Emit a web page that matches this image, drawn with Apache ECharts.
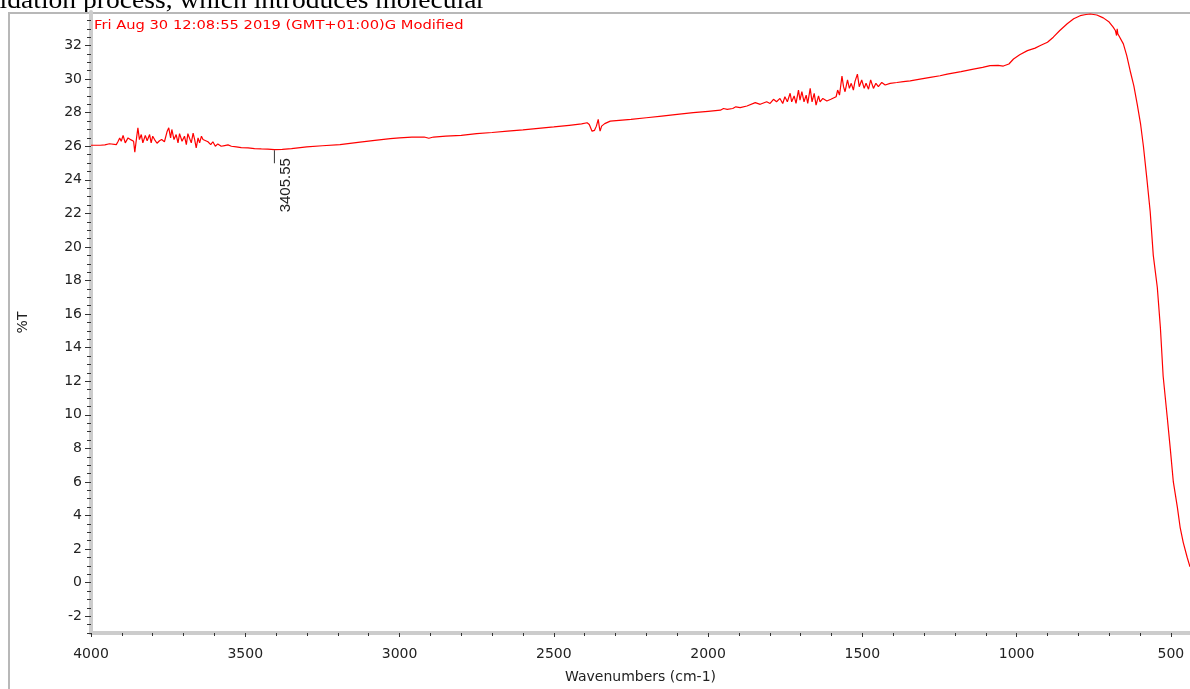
<!DOCTYPE html>
<html>
<head>
<meta charset="utf-8">
<title>FTIR spectrum</title>
<script src="https://cdn.jsdelivr.net/npm/echarts@6/dist/echarts.min.js"></script>
<style>
  html, body { margin: 0; padding: 0; background: #fff; }
  #ftir-chart { width: 1190px; height: 689px; }
</style>
</head>
<body>
<div id="ftir-chart"></div>
<script>
// wavenumber (cm-1) and %T
const wavenumbers = [
  4000, 3970, 3955, 3950, 3940, 3934, 3918, 3912, 3907, 3902, 3896, 3889, 3880, 3870, 3862, 3858,
  3852, 3848, 3843, 3837, 3832, 3824, 3818, 3810, 3805, 3800, 3794, 3786, 3778, 3771, 3762, 3753,
  3748, 3742, 3738, 3731, 3724, 3718, 3713, 3705, 3697, 3691, 3686, 3680, 3675, 3669, 3664, 3659,
  3653, 3648, 3642, 3637, 3632, 3621, 3612, 3605, 3597, 3589, 3578, 3567, 3556, 3545, 3529, 3513,
  3491, 3470, 3448, 3427, 3405.55, 3380, 3350, 3301, 3250, 3193, 3128, 3080, 3030, 3000, 2960, 2920,
  2905, 2890, 2850, 2800, 2750, 2700, 2650, 2600, 2550, 2500, 2450, 2410, 2392, 2385, 2376, 2368,
  2362, 2356, 2352, 2350, 2345, 2335, 2317, 2250, 2200, 2150, 2100, 2048, 2000, 1960, 1950, 1945,
  1938, 1920, 1910, 1905, 1896, 1874, 1847, 1831, 1810, 1799, 1788, 1778, 1767, 1758, 1751, 1743,
  1734, 1729, 1721, 1715, 1707, 1702, 1696, 1689, 1682, 1677, 1669, 1663, 1656, 1650, 1642, 1637,
  1628, 1615, 1602, 1585, 1580, 1574, 1566, 1561, 1556, 1548, 1542, 1536, 1529, 1524, 1516, 1510,
  1502, 1494, 1488, 1480, 1473, 1464, 1456, 1448, 1437, 1426, 1410, 1388, 1367, 1345, 1313, 1280,
  1248, 1225, 1180, 1140, 1110, 1086, 1060, 1043, 1025, 1010, 990, 965, 940, 923, 900, 881,
  860, 836, 815, 794, 775, 761, 740, 719, 700, 687, 680, 676, 674, 672, 668, 654,
  643, 632, 620, 609, 598, 589, 578, 567, 557, 544, 534, 525, 512, 502, 492, 479,
  470, 460, 447, 438
]
const transmittance = [
  26.06, 26.06, 26.08, 26.18, 26.15, 26.2, 26.1, 26.3, 26.5, 26.3, 26.65, 26.2, 26.5, 26.38, 26.3, 25.65,
  26.55, 27.1, 26.4, 26.7, 26.2, 26.65, 26.33, 26.7, 26.2, 26.6, 26.4, 26.18, 26.33, 26.4, 26.27, 26.9,
  27.1, 26.5, 27.0, 26.4, 26.7, 26.2, 26.75, 26.3, 26.6, 26.1, 26.75, 26.83, 26.2, 26.78, 26.4, 25.9,
  26.5, 26.2, 26.6, 26.4, 26.33, 26.27, 26.1, 26.27, 26.0, 26.14, 26.0, 26.04, 26.08, 26.0, 25.96, 25.92,
  25.9, 25.86, 25.84, 25.83, 25.8, 25.82, 25.86, 25.96, 26.03, 26.1, 26.25, 26.35, 26.45, 26.5, 26.55, 26.55,
  26.48, 26.55, 26.6, 26.65, 26.75, 26.82, 26.9, 26.98, 27.07, 27.15, 27.25, 27.33, 27.4, 27.3, 26.9, 26.95,
  27.2, 27.6, 27.1, 26.9, 27.2, 27.35, 27.5, 27.6, 27.7, 27.8, 27.9, 28.0, 28.08, 28.15, 28.25, 28.15,
  28.2, 28.25, 28.35, 28.25, 28.3, 28.4, 28.6, 28.5, 28.65, 28.55, 28.8, 28.65, 28.85, 28.55, 28.95, 28.65,
  29.16, 28.65, 29.0, 28.55, 29.35, 28.75, 29.25, 28.65, 29.05, 28.55, 29.45, 28.65, 29.15, 28.45, 29.0, 28.65,
  28.85, 28.7, 28.8, 28.95, 29.35, 29.05, 30.18, 29.55, 29.25, 29.95, 29.45, 29.75, 29.35, 29.85, 30.3, 29.55,
  29.95, 29.45, 29.75, 29.4, 29.95, 29.45, 29.75, 29.55, 29.8, 29.65, 29.75, 29.8, 29.85, 29.9, 30.0, 30.1,
  30.2, 30.3, 30.45, 30.6, 30.7, 30.8, 30.82, 30.78, 30.9, 31.2, 31.45, 31.7, 31.85, 32.0, 32.2, 32.5,
  32.9, 33.3, 33.6, 33.78, 33.85, 33.88, 33.82, 33.65, 33.4, 33.1, 32.9, 32.6, 33.0, 32.7, 32.6, 32.1,
  31.4, 30.5, 29.6, 28.5, 27.3, 26.0, 24.1, 22.1, 19.5, 17.6, 15.2, 12.3, 9.9, 8.0, 6.0, 4.5,
  3.3, 2.4, 1.5, 0.94
]
const xMajorTicks = [4000, 3500, 3000, 2500, 2000, 1500, 1000, 500]
const xMinorTicks = [4000, 3900, 3800, 3700, 3600, 3500, 3400, 3300, 3200, 3100, 3000, 2900, 2800, 2700,
  2600, 2500, 2400, 2300, 2200, 2100, 2000, 1900, 1800, 1700, 1600, 1500, 1400, 1300, 1200, 1100,
  1000, 900, 800, 700, 600, 500]
const yMajorTicks = [-2, 0, 2, 4, 6, 8, 10, 12, 14, 16, 18, 20, 22, 24, 26, 28, 30, 32]
const yMinorTicks = [-3, -2.5, -2, -1.5, -1, -0.5, 0, 0.5, 1, 1.5, 2, 2.5, 3, 3.5, 4, 4.5, 5, 5.5, 6, 6.5,
  7, 7.5, 8, 8.5, 9, 9.5, 10, 10.5, 11, 11.5, 12, 12.5, 13, 13.5, 14, 14.5, 15, 15.5, 16, 16.5,
  17, 17.5, 18, 18.5, 19, 19.5, 20, 20.5, 21, 21.5, 22, 22.5, 23, 23.5, 24, 24.5, 25, 25.5, 26, 26.5,
  27, 27.5, 28, 28.5, 29, 29.5, 30, 30.5, 31, 31.5, 32, 32.5, 33, 33.5]
const peakLabel = { wavenumber: 3405.55, value: 25.8, text: '3405.55' }
const headerText = 'Fri Aug 30 12:08:55 2019 (GMT+01:00)G Modified'

const FONT = '"Liberation Sans", Arial, sans-serif'
const WIDE_FONT = '"DejaVu Sans", Verdana, sans-serif'
const X_MIN = 438
const X_MAX = 4000
const Y_MIN = -3
const Y_MAX = 34

const spectrum = wavenumbers.map((w, i) => [w, transmittance[i]])

const baseAxis = {
  axisLine: { show: true, onZero: false, lineStyle: { color: '#cccccc', width: 4 } },
  splitLine: { show: false }
}

const chartOption = {
  animation: false,
  backgroundColor: '#fff',
  grid: { left: 91, right: 0, top: 12, bottom: 49 },
  xAxis: [
    {
      ...baseAxis,
      type: 'value',
      min: X_MIN,
      max: X_MAX,
      inverse: true,
      name: 'Wavenumbers (cm-1)',
      nameLocation: 'middle',
      nameGap: 37,
      nameTextStyle: { color: '#222', fontSize: 14, fontFamily: WIDE_FONT },
      axisTick: { show: true, length: 4, lineStyle: { color: '#333' }, customValues: xMajorTicks },
      axisLabel: {
        color: '#222',
        fontSize: 14,
        fontFamily: WIDE_FONT,
        margin: 14,
        customValues: xMajorTicks,
        formatter: v => String(v)
      }
    },
    {
      type: 'value',
      min: X_MIN,
      max: X_MAX,
      inverse: true,
      position: 'bottom',
      axisLine: { show: false, onZero: false },
      splitLine: { show: false },
      axisLabel: { show: false },
      axisTick: { show: true, length: 3, lineStyle: { color: '#333' }, customValues: xMinorTicks }
    }
  ],
  yAxis: [
    {
      ...baseAxis,
      type: 'value',
      min: Y_MIN,
      max: Y_MAX,
      name: '%T',
      nameLocation: 'middle',
      nameGap: 61,
      nameRotate: 90,
      nameTextStyle: { color: '#222', fontSize: 14, fontFamily: WIDE_FONT },
      axisTick: { show: true, length: 6, lineStyle: { color: '#333' }, customValues: yMajorTicks },
      axisLabel: { color: '#222', fontSize: 14, fontFamily: WIDE_FONT, margin: 9, customValues: yMajorTicks }
    },
    {
      type: 'value',
      min: Y_MIN,
      max: Y_MAX,
      position: 'left',
      axisLine: { show: false, onZero: false },
      splitLine: { show: false },
      axisLabel: { show: false },
      axisTick: { show: true, length: 4, lineStyle: { color: '#333' }, customValues: yMinorTicks }
    }
  ],
  graphic: [
    // clipped line of the surrounding document, sits above the frame
    {
      type: 'text',
      silent: true,
      x: -28,
      y: -12,
      scaleX: 1.06,
      style: {
        text: 'oxidation process, which introduces molecular',
        fill: '#000',
        font: '26px "Liberation Serif", "Times New Roman", serif'
      }
    },
    // page frame around the plot
    {
      type: 'polyline',
      silent: true,
      shape: { points: [[9, 689], [9, 13], [1190, 13]] },
      style: { stroke: '#b8b8b8', lineWidth: 2, fill: null }
    },
    {
      type: 'text',
      silent: true,
      x: 94,
      y: 26,
      scaleX: 1.13,
      style: { text: headerText, fill: '#ff0000', font: '13px ' + WIDE_FONT, verticalAlign: 'middle' }
    }
  ],
  series: [
    {
      name: '%T',
      type: 'line',
      data: spectrum,
      showSymbol: false,
      lineStyle: { color: '#ff0000', width: 1.2 },
      itemStyle: { color: '#ff0000' },
      markPoint: {
        silent: true,
        data: [
          {
            coord: [peakLabel.wavenumber, peakLabel.value],
            symbol: 'rect',
            symbolSize: [1, 13],
            symbolOffset: [0, 7],
            itemStyle: { color: '#333' },
            label: {
              show: true,
              formatter: peakLabel.text,
              position: 'bottom',
              rotate: 90,
              align: 'right',
              verticalAlign: 'middle',
              distance: 2,
              offset: [7, 11],
              color: '#222',
              fontSize: 15,
              fontFamily: FONT
            }
          }
        ]
      }
    }
  ]
}

const chartObj = echarts.init(document.getElementById('ftir-chart'))
chartObj.setOption(chartOption, true)
</script>
</body>
</html>
